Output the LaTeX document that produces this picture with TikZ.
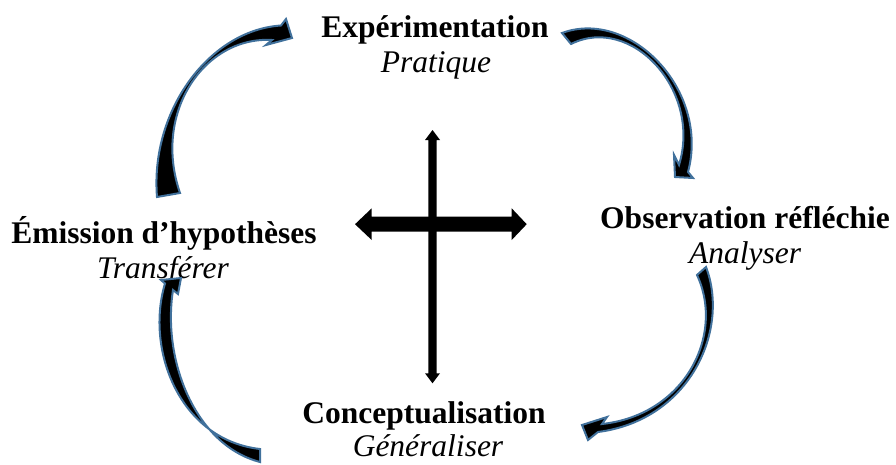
\documentclass[tikz,border=0pt]{standalone}
\usepackage{fontspec}
\setmainfont{Liberation Serif}
\definecolor{arrowblue}{RGB}{65,113,156}
\begin{document}
\begin{tikzpicture}[x=1pt,y=-1pt,
  title/.style={anchor=base,inner sep=0pt,font=\fontsize{31.5}{36}\selectfont\bfseries},
  sub/.style={anchor=base,inner sep=0pt,font=\fontsize{31.5}{36}\selectfont\itshape},
  carrow/.style={fill=black,draw=arrowblue,line width=2pt,line join=miter},
  cross/.style={fill=black,draw=none}]
\useasboundingbox (0,0) rectangle (896,464);
% labels
\node[title] (exp) at (435,37) {Expérimentation};
\node[sub]   (pra) at (436,72) {Pratique};
\node[title] (obs) at (745,228) {Observation réfléchie};
\node[sub]   (ana) at (745,263) {Analyser};
\node[title] (emi) at (164,243) {Émission d’hypothèses};
\node[sub]   (tra) at (163,278) {Transférer};
\node[title] (con) at (424,423) {Conceptualisation};
\node[sub]   (gen) at (428,456) {Généraliser};
% central cross
\fill[cross] (428.3,140) -- (425,140) -- (432.5,130) -- (440,140) -- (436.7,140)
  -- (436.7,373.3) -- (440,373.3) -- (432.5,383.3) -- (425,373.3) -- (428.3,373.3) -- cycle;
\fill[cross] (371.7,216.7) -- (371.7,208.3) -- (355,224.2) -- (371.7,240) -- (371.7,231.7)
  -- (511.7,231.7) -- (511.7,240) -- (526.7,224.2) -- (511.7,208.3) -- (511.7,216.7) -- cycle;
% curved arrows
\draw[carrow] (157,197) .. controls (150,110) and (210,30) .. (281,25.5)
  -- (286,19) -- (292,38) -- (266,45) -- (272,40)
  .. controls (205,36) and (152,112) .. (180,193) -- cycle;
\draw[carrow] (562,33) .. controls (630,8) and (710,90) .. (688,172)
  -- (693,178) -- (675,177) -- (674,155) -- (679,165)
  .. controls (702,90) and (631,14) .. (571,44) -- cycle;
\draw[carrow] (706,267) .. controls (730,330) and (690,420) .. (598,432)
  -- (588,440) -- (582,425) -- (607,417) -- (602,424)
  .. controls (685,415) and (725,335) .. (697,275) -- cycle;
\draw[carrow] (260,449) .. controls (180,440) and (145,350) .. (165,283.5)
  -- (161,280) -- (181,278) -- (178,294) -- (173,290)
  .. controls (162,360) and (195,445) .. (260,462) -- cycle;
\end{tikzpicture}
\end{document}
